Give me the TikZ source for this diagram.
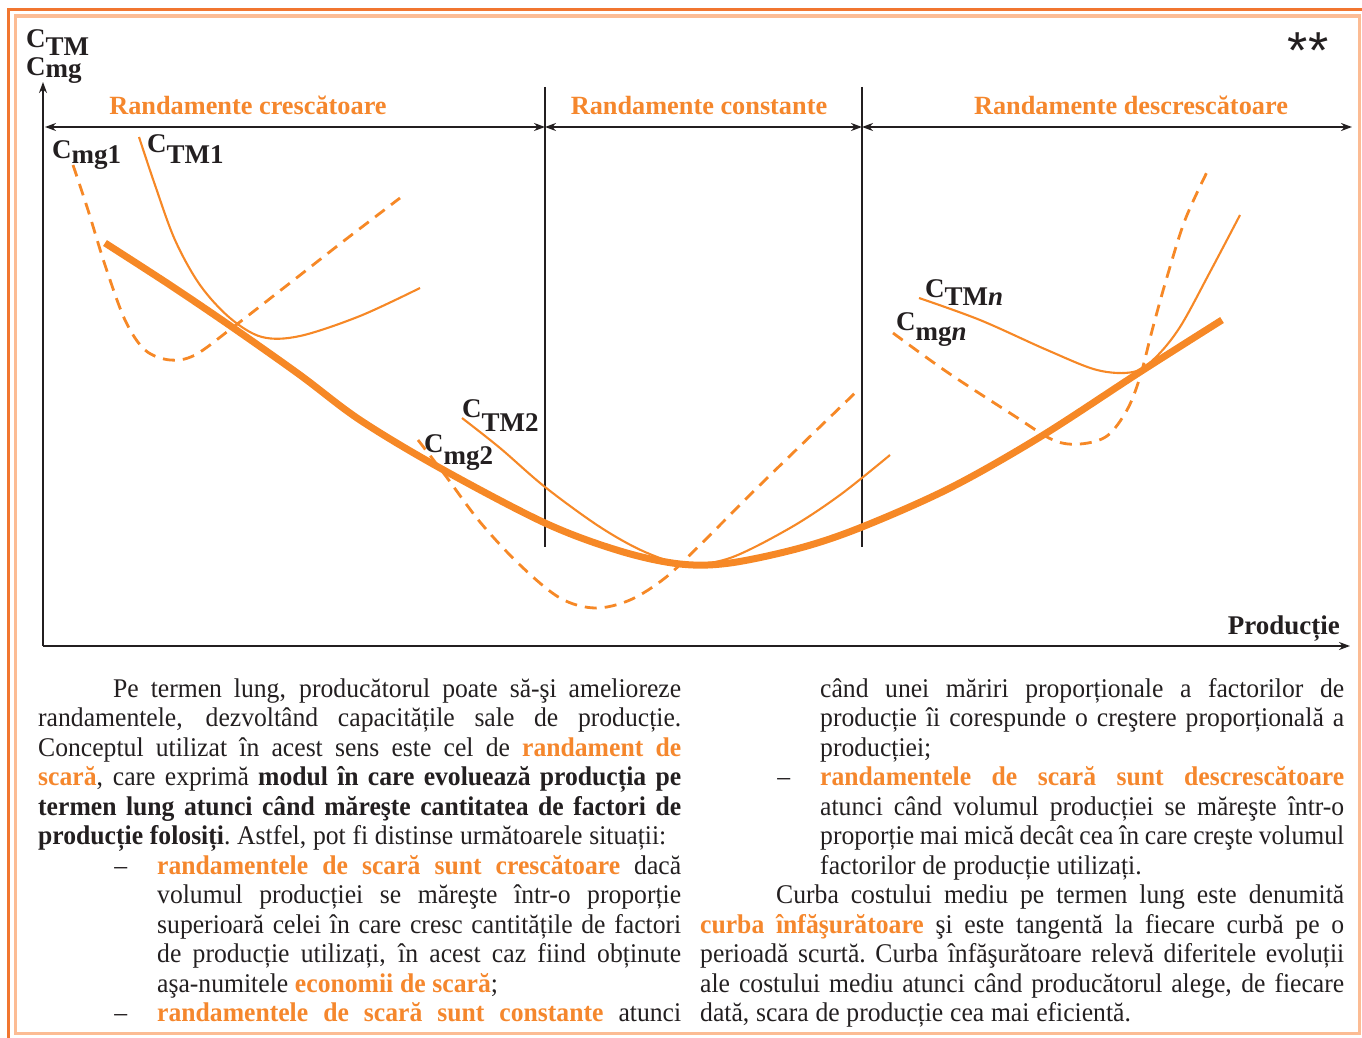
\documentclass[tikz,border=0pt]{standalone}
\usepackage{fontspec}
\setmainfont{Liberation Serif}
\newfontfamily\bodyfont{Liberation Serif}[FakeStretch=0.95]
\newfontfamily\starfont{Liberation Sans}
\usetikzlibrary{arrows.meta}

\definecolor{framedark}{RGB}{241,118,48}
\definecolor{framelight}{RGB}{252,188,148}
\definecolor{curveor}{RGB}{246,136,38}
\definecolor{textor}{RGB}{245,135,45}
\definecolor{inkdark}{RGB}{35,31,32}

% orange bold words in the text
\newcommand{\hl}[1]{\textbf{\textcolor{textor}{#1}}}
% cost label: C with a lowered index
\newcommand{\csub}[2][10pt]{C\raisebox{-#1}{#2}}
% settings for the two text columns
\newcommand{\colsetup}{\hyphenpenalty=10000 \exhyphenpenalty=10000 \tolerance=10000 \hbadness=10000
  \spaceskip=0.25em plus 0.5em minus 0.12em \xspaceskip=\spaceskip \rightskip=0pt}

\begin{document}
\begin{tikzpicture}[x=1pt, y=-1pt,
    axisline/.style={line width=2.4pt, draw=inkdark},
    axisarrow/.style={axisline, -{Stealth[length=11pt,width=8pt]}},
    spanarrow/.style={axisline, line width=2pt, {Stealth[length=11pt,width=8pt]}-{Stealth[length=11pt,width=8pt]}},
    lrac/.style={line width=7pt, draw=curveor},
    srac/.style={line width=2.1pt, draw=curveor},
    smc/.style={line width=2.8pt, draw=curveor, dash pattern=on 12pt off 8pt},
    costlabel/.style={anchor=base west, inner sep=0pt, text=inkdark, font=\fontsize{27}{27}\selectfont\bfseries},
    zonelabel/.style={anchor=base, inner sep=0pt, text=textor, font=\fontsize{26.3}{27}\selectfont\bfseries},
    column/.style={anchor=north west, inner sep=0pt, align=justify, text=inkdark, font=\bodyfont\fontsize{27}{29.5}\selectfont}]
	\useasboundingbox (0,0) rectangle (1362,1038);

	% Frames
	\draw[framedark, line width=3pt] (8.5,1038) -- (8.5,10) -- (1362,10);
	\draw[framelight, line width=3.5pt] (15.5,16) rectangle (1359.5,1033.5);
	\node[inner sep=0pt, text=inkdark, font=\starfont\fontsize{52}{52}\selectfont] (stars) at (1308,51) {**};

	% Axes
	\coordinate (O)    at (43,646);
	\coordinate (ytop) at (43,82);
	\coordinate (xend) at (1350,646);
	\draw[axisarrow] (O) -- (ytop);
	\draw[axisarrow] (O) -- (xend);

	% Zones of returns
	\coordinate (z0) at (45,127);
	\coordinate (z1) at (545,127);
	\coordinate (z2) at (862,127);
	\coordinate (z3) at (1352,127);
	\draw[spanarrow] (z0) -- (z1);
	\draw[spanarrow] (z1) -- (z2);
	\draw[spanarrow] (z2) -- (z3);
	\coordinate (s1top) at (545,87);
	\coordinate (s1bot) at (545,547);
	\coordinate (s2top) at (862,87);
	\coordinate (s2bot) at (862,547);
	\draw[axisline] (s1top) -- (s1bot);
	\draw[axisline] (s2top) -- (s2bot);

	\node[zonelabel] (zinc)  at (248,115)  {Randamente crescătoare};
	\node[zonelabel] (zcst)  at (699,115)  {Randamente constante};
	\node[zonelabel] (zdec)  at (1131,115) {Randamente descrescătoare};

	% Axis labels
	\node[costlabel, anchor=north west, align=left] (ly) at (26,29) {\csub[8pt]{TM}\\[1pt]\csub[2pt]{mg}};
	\node[anchor=base east, inner sep=0pt, text=inkdark, font=\fontsize{27}{27}\selectfont\bfseries] (lx) at (1340,634) {Producție};

	% Long run average cost (envelope)
	\draw[lrac] plot[smooth, tension=0.55] coordinates {(105,243) (170,285) (232,327) (300,375) (360,420) (440,468) (545,523) (620,551) (680,564) (730,563) (800,548) (862,527) (950,488) (1040,437) (1140,372) (1222,320)};

	% Short run curves 1
	\draw[srac] plot[smooth, tension=0.55] coordinates {(139,137) (155,185) (175,240) (200,285) (230,318) (262,337) (300,336) (360,316) (420,288)};
	\draw[smc] plot[smooth, tension=0.55] coordinates {(73,165) (88,210) (105,265) (125,320) (145,350) (170,360) (195,355) (232,328) (290,283) (345,240) (400,198)};
	\node[costlabel] (lmg1) at (52,158) {\csub[5pt]{mg1}};
	\node[costlabel] (lTM1) at (147,153) {\csub{TM1}};

	% Short run curves 2
	\draw[srac] plot[smooth, tension=0.55] coordinates {(462,418) (500,448) (545,487) (600,527) (645,552) (685,564) (730,558) (790,528) (840,495) (890,455)};
	\draw[smc] plot[smooth, tension=0.55] coordinates {(418,440) (445,475) (480,522) (520,565) (560,598) (595,608) (630,600) (665,578) (700,545) (760,485) (855,393)};
	\node[costlabel] (lTM2) at (462,417) {\csub[14pt]{TM2}};
	\node[costlabel] (lmg2) at (424,452) {\csub[12pt]{mg2}};

	% Short run curves n
	\draw[srac] plot[smooth, tension=0.55] coordinates {(919,298) (980,320) (1047,350) (1097,370) (1133,372) (1155,358) (1180,327) (1210,272) (1240,215)};
	\draw[smc] plot[smooth, tension=0.55] coordinates {(893,333) (947,372) (1013,415) (1053,440) (1080,444) (1107,436) (1127,410) (1140,377) (1153,327) (1167,277) (1185,220) (1208,170)};
	\node[costlabel] (lTMn) at (925,297) {\csub[8pt]{TM\textit{n}}};
	\node[costlabel] (lmgn) at (896,330) {\csub[10pt]{mg\textit{n}}};

	% Text below the chart
	\node[column, text width=643pt] (colL) at (38,677) {%
		\colsetup
		\noindent\hspace*{75pt}\rule{0pt}{20pt}Pe termen lung, producătorul poate să-şi amelioreze\linebreak
		randamentele, dezvoltând capacitățile sale de producție.\linebreak
		Conceptul utilizat în acest sens este cel de \hl{randament de}\linebreak
		\hl{scară}, care exprimă \textbf{modul în care evoluează producția pe}\linebreak
		\textbf{termen lung atunci când măreşte cantitatea de factori de}\linebreak
		\textbf{producție folosiți}. Astfel, pot fi distinse următoarele situații:\par
		{\leftskip=119pt \noindent\llap{–\hspace{30pt}}\hl{randamentele de scară sunt crescătoare} dacă\linebreak
		volumul producției se măreşte într-o proporție\linebreak
		superioară celei în care cresc cantitățile de factori\linebreak
		de producție utilizați, în acest caz fiind obținute\linebreak
		aşa-numitele \hl{economii de scară};\par}
		{\leftskip=119pt \parfillskip=0pt \noindent\llap{–\hspace{30pt}}\hl{randamentele de scară sunt constante} atunci\par}};
	\node[column, text width=644pt] (colR) at (700,677) {%
		\colsetup
		{\leftskip=120pt \noindent\rule{0pt}{20pt}când unei măriri proporționale a factorilor de\linebreak
		producție îi corespunde o creştere proporțională a\linebreak
		producției;\par}
		{\leftskip=120pt \noindent\llap{–\hspace{30pt}}\hl{randamentele de scară sunt descrescătoare}\linebreak
		atunci când volumul producției se măreşte într-o\linebreak
		proporție mai mică decât cea în care creşte volumul\linebreak
		factorilor de producție utilizați.\par}
		\noindent\hspace*{76pt}Curba costului mediu pe termen lung este denumită\linebreak
		\hl{curba înfăşurătoare} şi este tangentă la fiecare curbă pe o\linebreak
		perioadă scurtă. Curba înfăşurătoare relevă diferitele evoluții\linebreak
		ale costului mediu atunci când producătorul alege, de fiecare\linebreak
		dată, scara de producție cea mai eficientă.\par};
\end{tikzpicture}
\end{document}
